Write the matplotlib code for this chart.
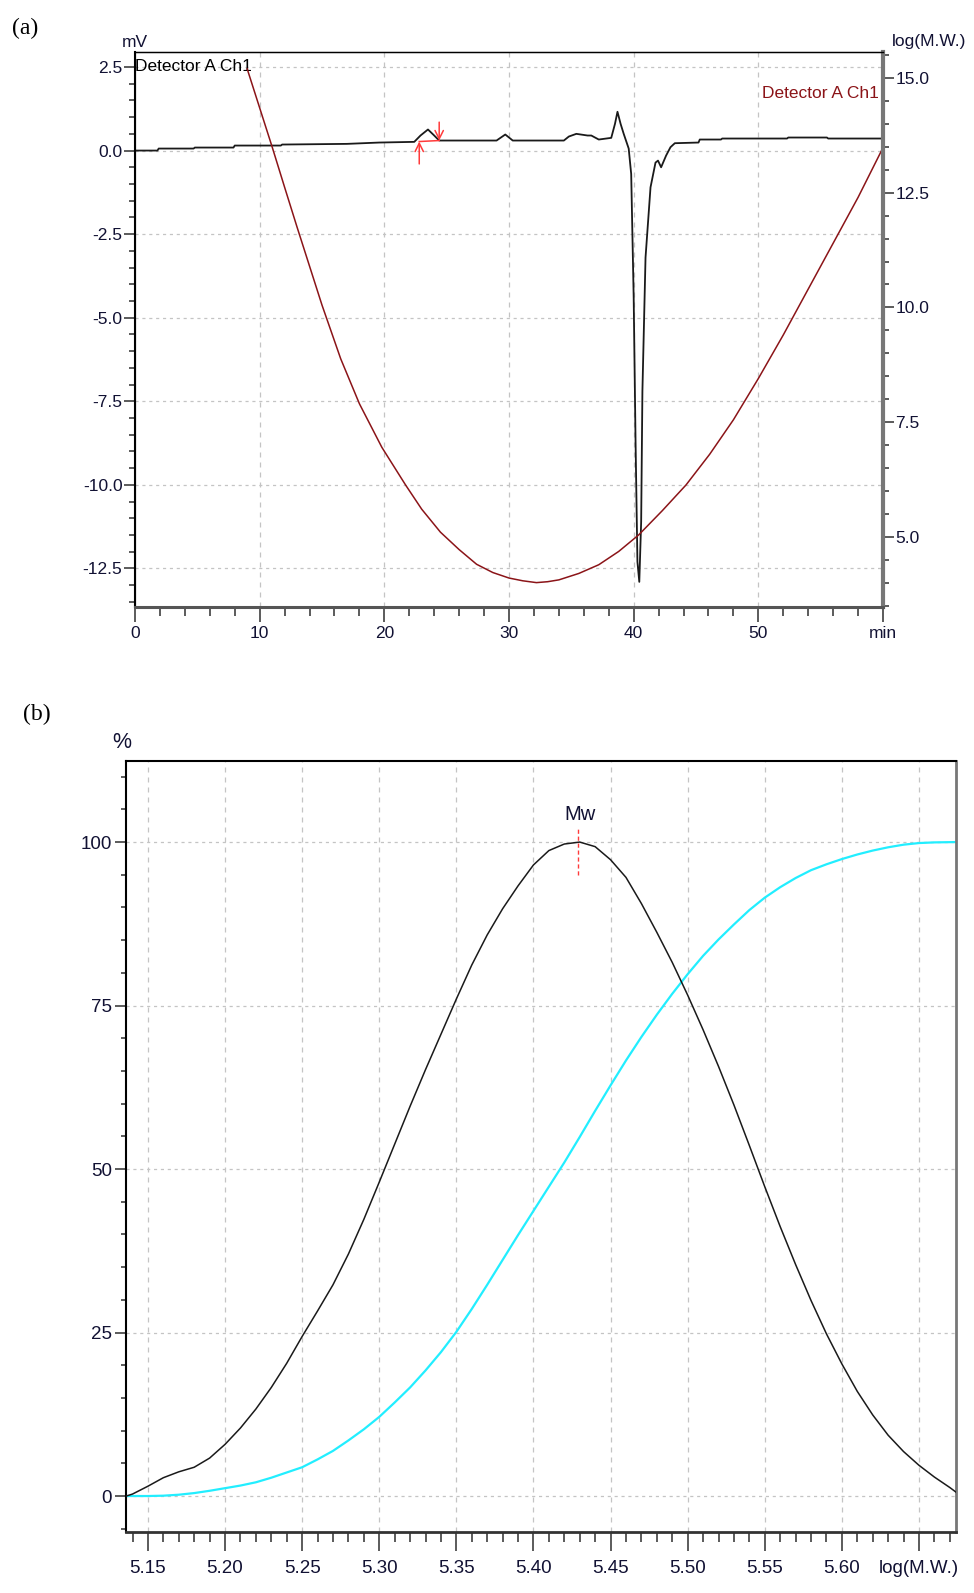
import numpy as np
import matplotlib
matplotlib.use("Agg")
import matplotlib.pyplot as plt
from matplotlib import font_manager
from matplotlib.ticker import MultipleLocator

# pick the narrow sans if it is installed
def has_font(name):
    try:
        font_manager.findfont(name, fallback_to_default=False)
        return True
    except ValueError:
        return False

NARROW = has_font("Liberation Sans Narrow")
SANS = ["Liberation Sans Narrow", "DejaVu Sans"] if NARROW else ["Liberation Sans", "DejaVu Sans"]
K = 1.2 if NARROW else 1.0
SERIF = ["Liberation Serif", "DejaVu Serif"]

# (a) chromatogram, detector A ch1 (mV vs min)
t_chrom = [0, 1.8, 1.9, 4.7, 4.8, 7.9, 8.0, 11.7, 11.8, 17.0, 19.6, 22.4, 22.9,
           23.5, 24.0, 24.4, 29.0, 29.7, 30.3, 34.4, 34.8, 35.4, 36.3, 36.6,
           37.2, 38.2, 38.5, 38.7, 38.95, 39.2, 39.6, 39.8, 40.0, 40.15, 40.3,
           40.45, 40.6, 40.7, 40.95, 41.35, 41.75, 41.95, 42.2, 42.6, 42.95,
           43.3, 45.2, 45.3, 47.0, 47.1, 52.3, 52.4, 55.5, 55.6, 60.0]
mv_chrom = [0.0, 0.0, 0.06, 0.06, 0.09, 0.09, 0.15, 0.15, 0.18, 0.2, 0.24, 0.26,
            0.45, 0.63, 0.45, 0.3, 0.3, 0.48, 0.3, 0.3, 0.42, 0.5, 0.45, 0.45,
            0.33, 0.38, 0.8, 1.16, 0.8, 0.5, 0.06, -0.7, -4.4, -8.7, -12.3,
            -12.9, -11.1, -7.2, -3.2, -1.1, -0.36, -0.3, -0.5, -0.15, 0.1,
            0.22, 0.24, 0.33, 0.33, 0.36, 0.36, 0.39, 0.39, 0.36, 0.36]

# calibration curve log(M.W.) vs min
t_cal = [9, 10, 11, 12, 13, 14, 15, 16.5, 18, 19.8, 21.7, 23, 24.5, 26, 27.4,
         28.7, 30, 31.1, 32.2, 33.1, 34, 35.6, 37.2, 38.8, 40.4, 42.3, 44.2,
         46.1, 48, 50, 52, 54, 56, 58, 59.9]
logmw_cal = [15.2, 14.35, 13.5, 12.62, 11.75, 10.9, 10.05, 8.88, 7.9, 6.95,
             6.13, 5.6, 5.1, 4.72, 4.4, 4.22, 4.1, 4.04, 4.0, 4.02, 4.06, 4.2,
             4.39, 4.68, 5.04, 5.57, 6.13, 6.8, 7.55, 8.45, 9.4, 10.4, 11.4,
             12.4, 13.43]

peak_start, peak_end = 22.8, 24.4

# (b) molecular weight distribution, differential curve (black)
lmw_diff = [5.136, 5.14, 5.15, 5.16, 5.17, 5.18, 5.19, 5.20, 5.21, 5.22, 5.23,
            5.24, 5.25, 5.26, 5.27, 5.28, 5.29, 5.30, 5.31, 5.32, 5.33, 5.34,
            5.35, 5.36, 5.37, 5.38, 5.39, 5.40, 5.41, 5.42, 5.43, 5.44, 5.45,
            5.46, 5.47, 5.48, 5.49, 5.50, 5.51, 5.52, 5.53, 5.54, 5.55, 5.56,
            5.57, 5.58, 5.59, 5.60, 5.61, 5.62, 5.63, 5.64, 5.65, 5.66, 5.67,
            5.674]
pct_diff = [0, 0.3, 1.5, 2.8, 3.7, 4.4, 5.8, 7.9, 10.4, 13.3, 16.6, 20.3,
            24.4, 28.3, 32.3, 37.0, 42.3, 48.0, 53.8, 59.6, 65.2, 70.6, 76.0,
            81.2, 85.8, 89.8, 93.3, 96.5, 98.7, 99.7, 100, 99.3, 97.3, 94.6,
            90.6, 86.2, 81.6, 76.6, 71.3, 65.7, 59.8, 53.6, 47.3, 41.2, 35.4,
            29.9, 24.8, 20.2, 16.0, 12.4, 9.3, 6.8, 4.7, 2.9, 1.3, 0.6]

# cumulative curve (cyan)
lmw_cum = [5.136, 5.15, 5.16, 5.17, 5.18, 5.19, 5.20, 5.21, 5.22, 5.23, 5.24,
           5.25, 5.26, 5.27, 5.28, 5.29, 5.30, 5.31, 5.32, 5.33, 5.34, 5.35,
           5.36, 5.37, 5.38, 5.39, 5.40, 5.41, 5.42, 5.43, 5.44, 5.45, 5.46,
           5.47, 5.48, 5.49, 5.50, 5.51, 5.52, 5.53, 5.54, 5.55, 5.56, 5.57,
           5.58, 5.59, 5.60, 5.61, 5.62, 5.63, 5.64, 5.65, 5.66, 5.674]
pct_cum = [0, 0, 0.05, 0.2, 0.45, 0.8, 1.2, 1.6, 2.1, 2.8, 3.6, 4.4, 5.6, 6.9,
           8.5, 10.2, 12.1, 14.3, 16.6, 19.2, 22.0, 25.1, 28.6, 32.3, 36.1,
           39.9, 43.6, 47.3, 51.0, 54.9, 58.9, 62.8, 66.6, 70.2, 73.6, 76.8,
           79.8, 82.6, 85.1, 87.4, 89.6, 91.5, 93.1, 94.5, 95.7, 96.6, 97.4,
           98.1, 98.7, 99.2, 99.6, 99.85, 99.95, 100]

mw_pos = 5.429

a_xticks = [0, 10, 20, 30, 40, 50, 60]
a_xlabels = ["0", "10", "20", "30", "40", "50", "min"]
a_yticks = [2.5, 0.0, -2.5, -5.0, -7.5, -10.0, -12.5]
a_rticks = [15.0, 12.5, 10.0, 7.5, 5.0]
b_xticks = [5.15, 5.20, 5.25, 5.30, 5.35, 5.40, 5.45, 5.50, 5.55, 5.60, 5.65]
b_xlabels = ["5.15", "5.20", "5.25", "5.30", "5.35", "5.40", "5.45", "5.50",
             "5.55", "5.60", "log(M.W.)"]
b_yticks = [0, 25, 50, 75, 100]

GRID = "#c4c4c4"
SPINE = "#404040"
TXT = "#111133"
RED = "#ff3b3b"

fig = plt.figure(figsize=(9.74, 15.93), dpi=100)

# ---------------- (a)
ax = fig.add_axes([0.1386, 0.6190, 0.7680, 0.3484])
ax.set_xlim(0, 60)
ax.set_ylim(-13.65, 2.95)
ax.set_xticks(a_xticks)
ax.set_xticklabels(a_xlabels)
ax.xaxis.set_minor_locator(MultipleLocator(2))
ax.set_yticks(a_yticks)
ax.set_yticklabels([f"{v:.1f}" for v in a_yticks])
ax.yaxis.set_minor_locator(MultipleLocator(0.5))
for v in a_xticks[1:-1]:
    ax.axvline(v, color=GRID, lw=0.9, ls=(0, (4, 4)), zorder=0)
for v in a_yticks:
    ax.axhline(v, color=GRID, lw=0.9, ls=(0, (2.5, 3)), zorder=0)

ax.plot(t_chrom, mv_chrom, color="#1a1a1a", lw=1.3, zorder=3)

# peak start / end markers
ax.plot([peak_start, peak_end], [0.27, 0.3], color=RED, lw=1.1, zorder=4)
ax.annotate("", xy=(peak_start, 0.27), xytext=(peak_start, -0.4),
            arrowprops=dict(arrowstyle="->", color=RED, lw=1.1,
                            mutation_scale=15, shrinkA=0, shrinkB=0), zorder=4)
ax.annotate("", xy=(peak_end, 0.3), xytext=(peak_end, 0.85),
            arrowprops=dict(arrowstyle="->", color=RED, lw=1.1,
                            mutation_scale=15, shrinkA=0, shrinkB=0), zorder=4)

axr = ax.twinx()
axr.set_ylim(3.47, 15.57)
axr.set_yticks(a_rticks)
axr.set_yticklabels([f"{v:.1f}" for v in a_rticks])
axr.yaxis.set_minor_locator(MultipleLocator(0.5))
axr.plot(t_cal, logmw_cal, color="#8b1418", lw=1.1, zorder=2)

fs_a = 12.5 * K
for a in (ax, axr):
    a.tick_params(which="major", direction="out", length=8, width=1.2,
                  color=SPINE, labelsize=fs_a, pad=1)
    a.tick_params(which="minor", direction="out", length=4.5, width=1.2,
                  color=SPINE)
    for lab in a.get_xticklabels() + a.get_yticklabels():
        lab.set_family(SANS)
        lab.set_color(TXT)
ax.tick_params(axis="x", which="major", length=11, pad=3)
ax.tick_params(axis="x", which="minor", length=6.5)
for s in ("top", "left"):
    axr.spines[s].set_color("black")
axr.spines["top"].set_linewidth(1.0)
axr.spines["left"].set_linewidth(1.5)
axr.spines["bottom"].set_linewidth(2.2)
axr.spines["bottom"].set_color("#555555")
axr.spines["right"].set_linewidth(3.0)
axr.spines["right"].set_color("#777777")

ax.text(0.0, 1.004, "mV", transform=ax.transAxes, ha="center", va="bottom",
        fontsize=fs_a, family=SANS, color=TXT)
axr.text(1.012, 1.006, "log(M.W.)", transform=ax.transAxes, ha="left",
         va="bottom", fontsize=fs_a, family=SANS, color=TXT)
ax.text(0.001, 2.5, "Detector A Ch1", ha="left", va="center", fontsize=fs_a,
        family=SANS, color="black", zorder=5)
axr.text(0.995, 0.925, "Detector A Ch1", transform=ax.transAxes, ha="right",
         va="center", fontsize=fs_a, family=SANS, color="#8b1418")
fig.text(12 / 974, 1 - 28 / 1593, "(a)", ha="left", va="center", fontsize=17,
         family=SERIF)

# ---------------- (b)
bx = fig.add_axes([0.1294, 0.0383, 0.8521, 0.4840])
bx.set_xlim(5.1358, 5.674)
bx.set_ylim(-5.5, 112.4)
bx.set_xticks(b_xticks)
bx.set_xticklabels(b_xlabels)
bx.xaxis.set_minor_locator(MultipleLocator(0.01))
bx.set_yticks(b_yticks)
bx.yaxis.set_minor_locator(MultipleLocator(5))
for v in b_xticks:
    bx.axvline(v, color=GRID, lw=0.9, ls=(0, (4, 4)), zorder=0)
for v in b_yticks:
    bx.axhline(v, color=GRID, lw=0.9, ls=(0, (2.5, 3)), zorder=0)

bx.plot(lmw_cum, pct_cum, color="#22eeff", lw=1.6, zorder=2)
bx.plot(lmw_diff, pct_diff, color="#1a1a1a", lw=1.1, zorder=3)
bx.plot([mw_pos, mw_pos], [95, 102], color=RED, lw=1.0,
        ls=(0, (3, 2)), zorder=4)

fs_b = 13.5 * K
bx.text(mw_pos + 0.001, 102.8, "Mw", ha="center", va="bottom",
        fontsize=fs_b + 1, family=SANS, color=TXT)
bx.tick_params(which="major", direction="out", width=1.2, color=SPINE,
               labelsize=fs_b)
bx.tick_params(axis="x", which="major", length=14, pad=6)
bx.tick_params(axis="x", which="minor", length=7.5, width=1.2, color=SPINE)
bx.tick_params(axis="y", which="major", length=8, pad=2)
bx.tick_params(axis="y", which="minor", length=3.5, width=1.2, color=SPINE)
for lab in bx.get_xticklabels() + bx.get_yticklabels():
    lab.set_family(SANS)
    lab.set_color(TXT)
for s in ("top", "left"):
    bx.spines[s].set_color("black")
    bx.spines[s].set_linewidth(1.5)
bx.spines["bottom"].set_color("#333333")
bx.spines["bottom"].set_linewidth(2.0)
bx.spines["right"].set_color("#777777")
bx.spines["right"].set_linewidth(2.0)
bx.text(-0.005, 1.01, "%", transform=bx.transAxes, ha="center", va="bottom",
        fontsize=fs_b + 2, family=SANS, color=TXT)
fig.text(23 / 974, 1 - 714 / 1593, "(b)", ha="left", va="center", fontsize=17,
         family=SERIF)

fig.savefig("out.png", dpi=100)
